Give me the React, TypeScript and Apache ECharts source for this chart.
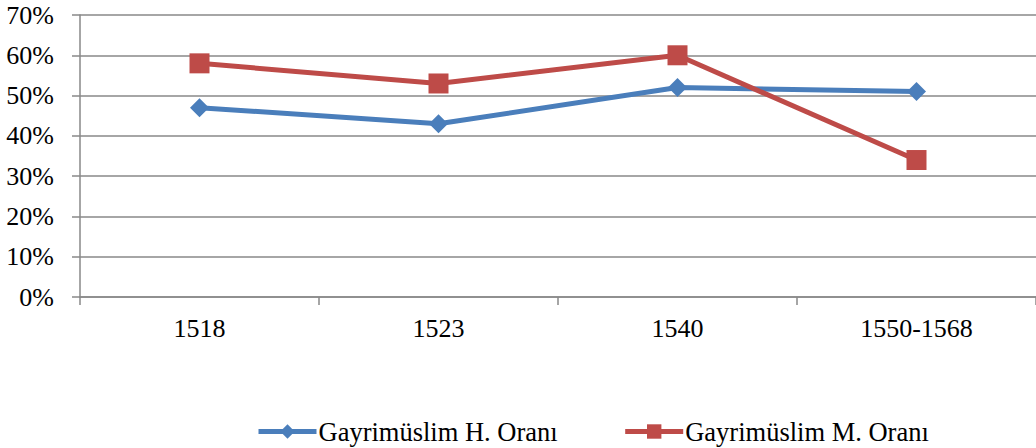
import React, { useEffect, useRef } from "react";
import * as echarts from "echarts";

const categories = ["1518", "1523", "1540", "1550-1568"];
const seriesH = [47, 43, 52, 51];
const seriesM = [58, 53, 60, 34];
const seriesNames = ["Gayrimüslim H. Oranı", "Gayrimüslim M. Oranı"];

export default function App() {
  const ref = useRef<HTMLDivElement>(null);
  useEffect(() => {
    if (!ref.current) return;
    const chart = echarts.init(ref.current, undefined, { renderer: "svg" });
    const font = "Liberation Serif";
    chart.setOption({
      animation: false,
      textStyle: { fontFamily: font },
      grid: { left: 80, top: 15, width: 960, height: 282, containLabel: false },
      legend: {
        top: 418,
        left: 256,
        padding: 0,
        itemWidth: 58,
        itemHeight: 18,
        itemGap: 65,
        lineStyle: { width: 5 },
        textStyle: { fontFamily: font, fontSize: 26.5, color: "#000", padding: [0, 0, 0, -3] },
        data: seriesNames,
      },
      xAxis: {
        type: "category",
        data: categories,
        boundaryGap: true,
        axisLine: { lineStyle: { color: "#898989", width: 1.5 } },
        axisTick: { show: true, length: 8, inside: false, lineStyle: { color: "#898989", width: 1.5 } },
        axisLabel: { margin: 18, fontSize: 26, color: "#000", fontFamily: font },
      },
      yAxis: {
        type: "value",
        min: 0,
        max: 70,
        interval: 10,
        axisLine: { show: true, lineStyle: { color: "#898989", width: 1.5 } },
        axisTick: { show: true, length: 8, inside: false, lineStyle: { color: "#898989", width: 1.5 } },
        axisLabel: { margin: 26, fontSize: 26, color: "#000", fontFamily: font, formatter: "{value}%" },
        splitLine: { show: true, lineStyle: { color: "#898989", width: 1.5 } },
      },
      series: [
        {
          name: seriesNames[0],
          type: "line",
          data: seriesH,
          symbol: "diamond",
          symbolSize: 19,
          itemStyle: { color: "#4A7EBB" },
          lineStyle: { color: "#4A7EBB", width: 5 },
        },
        {
          name: seriesNames[1],
          type: "line",
          data: seriesM,
          symbol: "rect",
          symbolSize: 20,
          itemStyle: { color: "#BE4B48" },
          lineStyle: { color: "#BE4B48", width: 5 },
        },
      ],
    });
    return () => chart.dispose();
  }, []);
  return (
    <div
      ref={ref}
      style={{ position: "absolute", left: 0, top: 0, width: 1036, height: 448 }}
    />
  );
}
